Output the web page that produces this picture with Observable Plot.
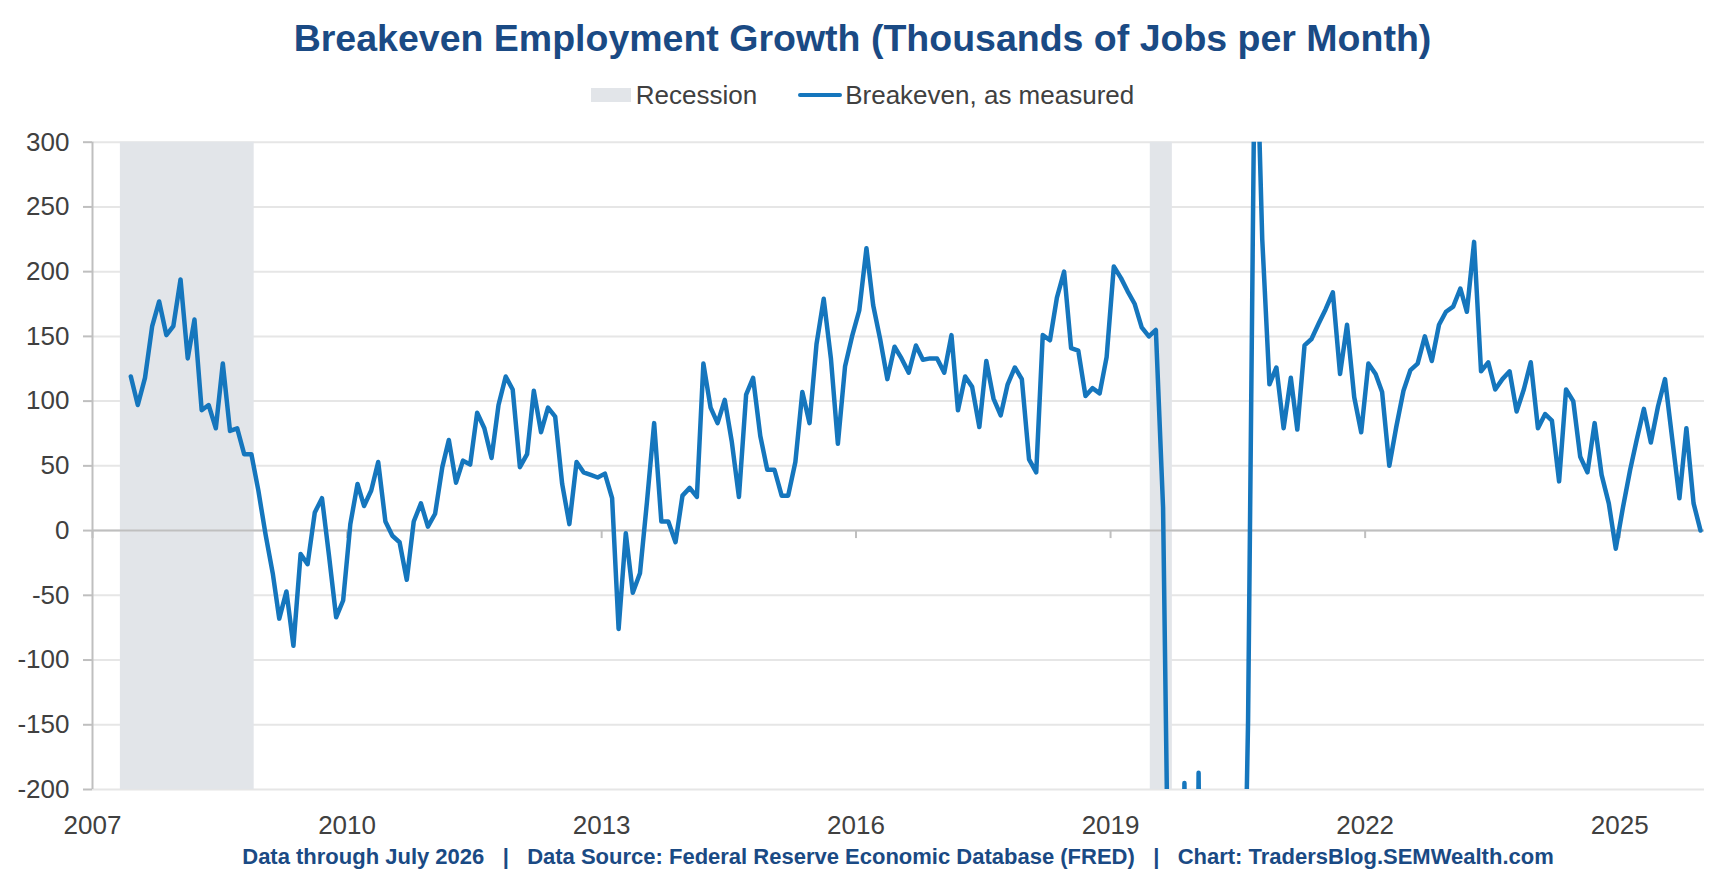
<!DOCTYPE html>
<html>
<head>
<meta charset="utf-8">
<script src="https://cdn.jsdelivr.net/npm/d3@7"></script>
<script src="https://cdn.jsdelivr.net/npm/@observablehq/plot@0.6"></script>
<style>
  body { margin: 0; background: #fff; width: 1725px; font-family: Arial, "Liberation Sans", Helvetica, sans-serif; }
  #title { height: 77px; line-height: 77px; text-align: center; font-weight: bold; font-size: 37.5px; color: #1a4a84; white-space: nowrap; }
  #legend { height: 36px; display: flex; justify-content: center; align-items: center; font-size: 26px; color: #404040; }
  .sw-rect { width: 40px; height: 14px; background: #e2e5e9; margin-right: 5px; }
  .sw-line { width: 44px; height: 4.5px; border-radius: 2px; background: #1576bd; margin-left: 41px; margin-right: 3px; }
  #chart svg { display: block; }
  #footer { height: 28px; line-height: 28px; box-sizing: border-box; padding-left: 92px; padding-right: 21px; text-align: center; font-weight: bold; font-size: 22px; color: #1a4a84; white-space: pre; }
</style>
</head>
<body>
<div id="title">Breakeven Employment Growth (Thousands of Jobs per Month)</div>
<div id="legend"><span class="sw-rect"></span><span>Recession</span><span class="sw-line"></span><span>Breakeven, as measured</span></div>
<div id="chart"></div>
<div id="footer">Data through July 2026   |   Data Source: Federal Reserve Economic Database (FRED)   |   Chart: TradersBlog.SEMWealth.com</div>
<script>
// ---- data (thousands of jobs per month), monthly from startMonth ----
const startMonth = "2007-06-15";
const breakeven = [
  119, 97, 118, 158, 177, 151, 158, 194, 133, 163,
  93, 97, 79, 129, 77, 79, 59, 59, 31, -3,
  -33, -68, -47, -89, -18, -26, 14, 25, -19, -67,
  -54, 5, 36, 19, 31, 53, 7, -4, -9, -38,
  7, 21, 3, 13, 49, 70, 37, 54, 51, 91,
  79, 56, 97, 119, 109, 49, 59, 108, 76, 95,
  88, 36, 5,
  53, 45, 43, 41, 44, 25, -76, -2, -48, -33,
  22, 83, 7, 7, -9, 27, 33, 26, 129, 95,
  83, 101, 69, 26, 105, 118, 73, 47, 47, 27,
  27, 53, 107, 83,
  144, 179, 133, 67, 127, 150, 170, 218, 174, 147,
  117, 142, 133, 122, 143, 132, 133, 133, 122, 151,
  93, 119, 111, 80, 131, 102, 89, 113, 126, 117,
  55, 45, 151, 147,
  180, 200, 141, 139, 104, 110, 106, 134, 204, 195,
  185, 175, 157, 150, 155, 18,
  -400, -1500, -195, -900, -187, -800, -1000, -1200, -900, -700,
  -450, -147, 420, 225,
  113, 126, 79, 118,
  78, 143, 148, 160, 171, 184, 121, 159, 103, 76,
  129, 121, 107, 50, 80, 108, 124, 129, 150, 131,
  159, 169, 173, 187, 169, 223, 123, 130, 109, 117,
  123, 92, 109, 130,
  79, 90, 85, 38, 109, 100, 57, 45, 83, 43,
  21, -14, 18, 47, 70, 94, 68, 96, 117, 71,
  25, 79, 21, 0
];
const recessionStarts = ["2007-05-01", "2019-06-21"];
const recessionEnds   = ["2008-11-27", "2019-09-24"];
const yTicks = [-200, -150, -100, -50, 0, 50, 100, 150, 200, 250, 300];
const xTickYears = [2007, 2010, 2013, 2016, 2019, 2022, 2025];
const xDomain = ["2007-01-01", "2026-01-01"];
const yDomain = [-200, 300];

// ---- build tables ----
const start = new Date(startMonth);
const data = breakeven.map((v, i) => ({ date: d3.utcMonth.offset(start, i), value: v }));
const recessions = recessionStarts.map((s, i) => ({ start: new Date(s), end: new Date(recessionEnds[i]) }));
const xTicks = xTickYears.map(y => new Date(Date.UTC(y, 0, 1)));
const xDom = xDomain.map(d => new Date(d));

const chart = Plot.plot({
  width: 1725,
  height: 730,
  marginTop: 28.7,
  marginBottom: 54,
  marginLeft: 92,
  marginRight: 21,
  style: { fontFamily: 'Arial, "Liberation Sans", Helvetica, sans-serif', fontSize: "26px", color: "#404040", background: "#fff" },
  x: { type: "utc", domain: xDom, label: null },
  y: { domain: yDomain, label: null },
  marks: [
    Plot.gridY(yTicks, { stroke: "#e6e6e6", strokeOpacity: 1, strokeWidth: 2 }),
    Plot.rect(recessions, { x1: "start", x2: "end", fill: "#e2e5e9" }),
    Plot.ruleY([0], { stroke: "#bfbfbf", strokeWidth: 2 }),
    Plot.ruleX([xDom[0]], { stroke: "#bfbfbf", strokeWidth: 2 }),
    Plot.ruleX(xTicks, { x: d => d, y1: 0, y2: 0, insetBottom: -8, stroke: "#bfbfbf", strokeWidth: 2 }),
    Plot.axisY(yTicks, { tickSize: 9, tickPadding: 14, stroke: "#bfbfbf", strokeWidth: 2, fill: "#404040", fontSize: 26, tickFormat: d => String(d), label: null }),
    Plot.axisX(xTicks, { tickSize: 0, tickPadding: 26, tickFormat: d3.utcFormat("%Y"), fill: "#404040", fontSize: 26, label: null }),
    Plot.lineY(data, { x: "date", y: "value", stroke: "#1576bd", strokeWidth: 4.5, strokeLinejoin: "round", strokeLinecap: "round", clip: true })
  ]
});
document.getElementById("chart").appendChild(chart);
</script>
</body>
</html>
